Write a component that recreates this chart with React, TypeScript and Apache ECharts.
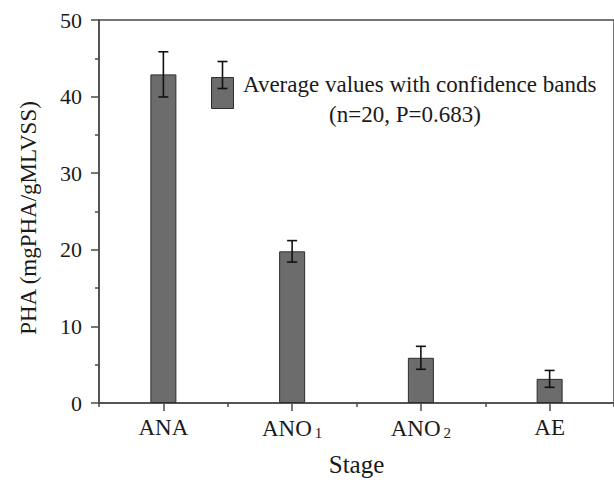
import React, { useEffect, useRef } from "react";
import * as echarts from "echarts";

const categories = ["ANA", "ANO1", "ANO2", "AE"];
const categoryLabels = ["ANA", "ANO{sub|1}", "ANO{sub|2}", "AE"];
const meanValues = [42.9, 19.8, 5.9, 3.15];
const errorValues = [2.95, 1.4, 1.5, 1.1];
const yTicks = [0, 10, 20, 30, 40, 50];
const legendLine1 = "Average values with confidence bands";
const legendLine2 = "(n=20, P=0.683)";
const xAxisName = "Stage";
const yAxisName = "PHA (mgPHA/gMLVSS)";

const FONT = "'Liberation Serif', 'Times New Roman', serif";
const AXIS = "#4a4a4a";
const BAR = "#6c6c6c";
const BAR_EDGE = "#2e2e2e";
const ERR = "#111111";

export default function App() {
  const ref = useRef<HTMLDivElement>(null);
  useEffect(() => {
    if (!ref.current) return;
    const chart = echarts.init(ref.current, undefined, { renderer: "svg" });
    const errData = categories.map((_, i) => [
      i,
      meanValues[i] - errorValues[i],
      meanValues[i] + errorValues[i],
    ]);
    chart.setOption({
      animation: false,
      backgroundColor: "#ffffff",
      grid: {
        left: 99,
        top: 20,
        right: -1,
        bottom: 77,
        show: true,
        borderColor: AXIS,
        borderWidth: 1.5,
        backgroundColor: "transparent",
      },
      xAxis: [
        {
          type: "category",
          data: categories,
          position: "bottom",
          axisLine: { lineStyle: { color: AXIS, width: 1.5 } },
          axisTick: {
            show: true,
            alignWithLabel: true,
            interval: 0,
            length: 8,
            lineStyle: { color: AXIS, width: 1.5 },
          },
          axisLabel: {
            interval: 0,
            hideOverlap: false,
            margin: 13,
            color: "#1a1a1a",
            fontFamily: FONT,
            fontSize: 23,
            formatter: (_v: string, i: number) => categoryLabels[i],
            rich: {
              sub: {
                fontFamily: FONT,
                fontSize: 15,
                color: "#1a1a1a",
                verticalAlign: "bottom",
                padding: [9, 0, 0, 3],
              },
            },
          },
          name: xAxisName,
          nameLocation: "middle",
          nameGap: 49,
          nameTextStyle: { fontFamily: FONT, fontSize: 25, color: "#1a1a1a" },
          splitLine: { show: false },
        },
        {
          type: "category",
          data: categories,
          position: "bottom",
          axisLine: { show: false },
          axisTick: { show: true, interval: 0, length: 4, lineStyle: { color: AXIS, width: 1.5 } },
          axisLabel: { show: false },
          splitLine: { show: false },
        },
      ],
      yAxis: {
        type: "value",
        min: 0,
        max: 50,
        interval: 10,
        axisLine: { show: true, lineStyle: { color: AXIS, width: 1.5 } },
        axisTick: { show: true, length: 8, lineStyle: { color: AXIS, width: 1.5 } },
        minorTick: { show: true, splitNumber: 2, length: 4, lineStyle: { color: AXIS, width: 1.5 } },
        splitLine: { show: false },
        axisLabel: {
          margin: 17,
          color: "#1a1a1a",
          fontFamily: FONT,
          fontSize: 22,
          formatter: (v: number) => (yTicks.includes(v) ? String(v) : ""),
        },
        name: yAxisName,
        nameLocation: "middle",
        nameGap: 59,
        nameTextStyle: {
          fontFamily: FONT,
          fontSize: 23,
          color: "#1a1a1a",
          padding: [0, 13, 0, 0],
        },
      },
      series: [
        {
          type: "bar",
          data: meanValues,
          barWidth: 26,
          itemStyle: { color: BAR, borderColor: BAR_EDGE, borderWidth: 1 },
        },
        {
          type: "custom",
          data: errData,
          z: 5,
          renderItem: (_params: any, api: any) => {
            const x = api.value(0);
            const lo = api.coord([x, api.value(1)]);
            const hi = api.coord([x, api.value(2)]);
            const cap = 5;
            const st = { stroke: ERR, lineWidth: 1.6 };
            return {
              type: "group",
              children: [
                { type: "line", shape: { x1: hi[0], y1: hi[1], x2: lo[0], y2: lo[1] }, style: st },
                { type: "line", shape: { x1: hi[0] - cap, y1: hi[1], x2: hi[0] + cap, y2: hi[1] }, style: st },
                { type: "line", shape: { x1: lo[0] - cap, y1: lo[1], x2: lo[0] + cap, y2: lo[1] }, style: st },
              ],
            };
          },
        },
      ],
      graphic: [
        {
          type: "rect",
          shape: { x: 211.5, y: 77.5, width: 22, height: 31 },
          style: { fill: BAR, stroke: BAR_EDGE, lineWidth: 1 },
          z: 10,
        },
        {
          type: "line",
          shape: { x1: 222.5, y1: 61.5, x2: 222.5, y2: 88.5 },
          style: { stroke: ERR, lineWidth: 1.6 },
          z: 11,
        },
        {
          type: "line",
          shape: { x1: 217.5, y1: 61.5, x2: 227.5, y2: 61.5 },
          style: { stroke: ERR, lineWidth: 1.6 },
          z: 11,
        },
        {
          type: "line",
          shape: { x1: 217.5, y1: 88.5, x2: 227.5, y2: 88.5 },
          style: { stroke: ERR, lineWidth: 1.6 },
          z: 11,
        },
        {
          type: "text",
          x: 243,
          y: 84,
          style: {
            text: legendLine1,
            font: `23px ${FONT}`,
            fill: "#1a1a1a",
            verticalAlign: "middle",
            align: "left",
          },
          z: 11,
        },
        {
          type: "text",
          x: 329,
          y: 114,
          style: {
            text: legendLine2,
            font: `23px ${FONT}`,
            fill: "#1a1a1a",
            verticalAlign: "middle",
            align: "left",
          },
          z: 11,
        },
      ],
    });
    return () => chart.dispose();
  }, []);
  return (
    <div
      ref={ref}
      style={{ position: "absolute", left: 0, top: 0, width: 614, height: 482 }}
    />
  );
}
